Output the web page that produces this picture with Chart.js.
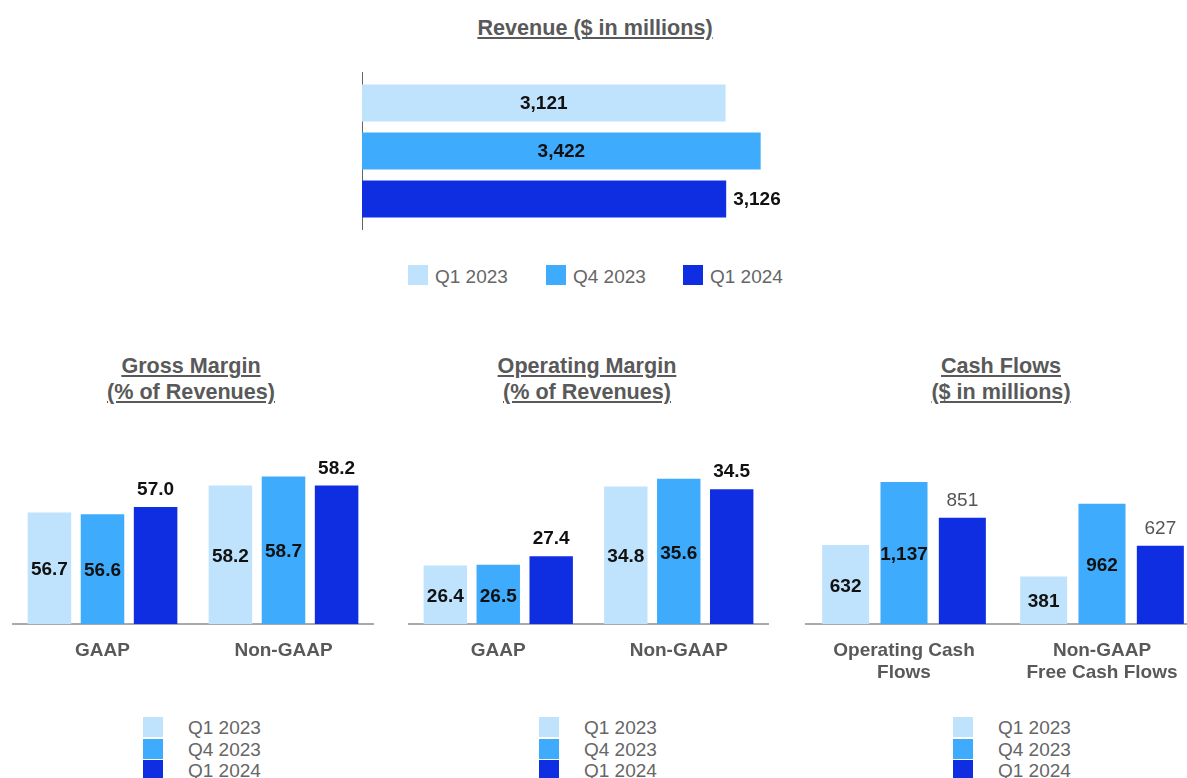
<!DOCTYPE html>
<html>
<head>
<meta charset="utf-8">
<script src="https://cdn.jsdelivr.net/npm/chart.js@4"></script>
<style>
  body { margin: 0; width: 1187px; height: 778px; overflow: hidden; background: #fff; font-family: "Liberation Sans", Arial, sans-serif; position: relative; }
  .box { position: absolute; }
  .title { position: absolute; text-align: center; color: #595959; font-weight: bold; font-size: 21.6px; line-height: 26px; }
  .title span { text-decoration: underline; text-underline-offset: 2px; }
  .legend { position: absolute; color: #666; font-size: 19px; }
  .legend .item { position: absolute; white-space: nowrap; }
  .legend .sw { position: absolute; width: 20px; height: 20px; }
</style>
</head>
<body>
<div class="title" style="left:395px; top:15px; width:400px;"><span>Revenue ($ in millions)</span></div>
<div class="box" style="left:362px; top:72px; width:466px; height:158px;"><canvas id="revenue"></canvas></div>
<div class="legend" id="revLegend"></div>

<div class="title" style="left:41px; top:353px; width:300px;"><span>Gross Margin</span><br><span>(% of Revenues)</span></div>
<div class="title" style="left:437px; top:353px; width:300px;"><span>Operating Margin</span><br><span>(% of Revenues)</span></div>
<div class="title" style="left:851px; top:353px; width:300px;"><span>Cash Flows</span><br><span>($ in millions)</span></div>

<div class="box" style="left:12px; top:444px; width:362px; height:240px;"><canvas id="gross"></canvas></div>
<div class="box" style="left:408px; top:444px; width:361px; height:240px;"><canvas id="operating"></canvas></div>
<div class="box" style="left:805px; top:444px; width:396px; height:240px;"><canvas id="cash"></canvas></div>

<div class="legend" id="grossLegend" style="left:143px; top:717px;"></div>
<div class="legend" id="opLegend" style="left:539px; top:717px;"></div>
<div class="legend" id="cashLegend" style="left:953px; top:717px;"></div>

<script>
  // Periods shown in every chart
  const periods = ['Q1 2023', 'Q4 2023', 'Q1 2024'];
  const periodColors = ['#c0e3fd', '#3fabfc', '#102ee1'];

  // Revenue ($ in millions), one bar per period
  const revenue = [3121, 3422, 3126];

  // Gross and operating margin (% of revenues)
  const marginGroups = ['GAAP', 'Non-GAAP'];
  const grossQ1_2023 = [56.7, 58.2];
  const grossQ4_2023 = [56.6, 58.7];
  const grossQ1_2024 = [57.0, 58.2];
  const opQ1_2023 = [26.4, 34.8];
  const opQ4_2023 = [26.5, 35.6];
  const opQ1_2024 = [27.4, 34.5];

  // Cash flows ($ in millions)
  const cashGroups = [['Operating Cash', 'Flows'], ['Non-GAAP', 'Free Cash Flows']];
  const cashQ1_2023 = [632, 381];
  const cashQ4_2023 = [1137, 962];
  const cashQ1_2024 = [851, 627];

  const FONT = '"Liberation Sans", Arial, sans-serif';

  // draws the value of each bar, inside (center) or past the end of it
  const valueLabels = {
    id: 'valueLabels',
    afterDatasetsDraw(chart, args, opts) {
      const ctx = chart.ctx;
      const area = chart.chartArea;
      ctx.save();
      chart.data.datasets.forEach((ds, i) => {
        const meta = chart.getDatasetMeta(i);
        const outside = opts.outside[i];
        meta.data.forEach((bar, j) => {
          const v = ds.data[j];
          const txt = opts.decimals ? v.toFixed(opts.decimals) : v.toLocaleString('en-US');
          const style = outside ? opts.outsideStyle : opts.insideStyle;
          ctx.font = style.font;
          ctx.fillStyle = style.color;
          ctx.textBaseline = 'middle';
          if (chart.options.indexAxis === 'y') {
            const base = Math.max(bar.base, area.left);
            if (outside) {
              ctx.textAlign = 'left';
              ctx.fillText(txt, bar.x + 7, bar.y + 1);
            } else {
              ctx.textAlign = 'center';
              ctx.fillText(txt, (bar.x + base) / 2, bar.y + 1);
            }
          } else {
            // bars of non-zero axes start below the chart area, so clamp the base
            const base = Math.min(bar.base, area.bottom);
            ctx.textAlign = 'center';
            if (outside) {
              ctx.fillText(txt, bar.x, bar.y - 17);
            } else {
              ctx.fillText(txt, bar.x, (bar.y + base) / 2 + 2);
            }
          }
        });
      });
      ctx.restore();
    }
  };

  function makeDatasets(seriesList, barPct, catPct) {
    return seriesList.map((data, i) => ({
      label: periods[i],
      data: data,
      backgroundColor: periodColors[i],
      borderWidth: 0,
      barPercentage: barPct,
      categoryPercentage: catPct
    }));
  }

  new Chart(document.getElementById('revenue'), {
    type: 'bar',
    data: {
      labels: ['Revenue'],
      datasets: makeDatasets([[revenue[0]], [revenue[1]], [revenue[2]]], 0.77, 0.91)
    },
    options: {
      indexAxis: 'y',
      responsive: true,
      maintainAspectRatio: false,
      animation: false,
      layout: { padding: 0 },
      plugins: {
        legend: { display: false },
        tooltip: { enabled: false },
        valueLabels: {
          outside: [false, false, true],
          insideStyle: { font: 'bold 19px ' + FONT, color: '#111' },
          outsideStyle: { font: 'bold 19px ' + FONT, color: '#111' }
        }
      },
      scales: {
        x: { display: false, min: 0, max: 4000 },
        y: {
          display: true,
          ticks: { display: false },
          grid: { display: false, drawTicks: false },
          border: { display: true, color: '#666', width: 2 }
        }
      }
    },
    plugins: [valueLabels]
  });

  function groupedChart(id, labels, series, min, max, decimals, aboveStyle, barPct, catPct) {
    return new Chart(document.getElementById(id), {
      type: 'bar',
      data: { labels: labels, datasets: makeDatasets(series, barPct, catPct) },
      options: {
        responsive: true,
        maintainAspectRatio: false,
        animation: false,
        layout: { padding: 0 },
        plugins: {
          legend: { display: false },
          tooltip: { enabled: false },
          valueLabels: {
            decimals: decimals,
            outside: [false, false, true],
            insideStyle: { font: 'bold 19px ' + FONT, color: '#111' },
            outsideStyle: aboveStyle
          }
        },
        scales: {
          x: {
            grid: { display: false, drawTicks: false },
            border: { display: true, color: '#aaa', width: 2 },
            ticks: { color: '#595959', font: { family: FONT, size: 19, weight: 'bold', lineHeight: 1.2 }, padding: 15, maxRotation: 0, autoSkip: false },
            afterFit(scale) { scale.height = 60; }
          },
          y: { display: false, min: min, max: max }
        }
      },
      plugins: [valueLabels]
    });
  }

  groupedChart('gross', marginGroups, [grossQ1_2023, grossQ4_2023, grossQ1_2024], 50.5, 60.5, 1,
    { font: 'bold 19px ' + FONT, color: '#111' }, 0.82, 0.88);
  groupedChart('operating', marginGroups, [opQ1_2023, opQ4_2023, opQ1_2024], 20.2, 39.3, 1,
    { font: 'bold 19px ' + FONT, color: '#111' }, 0.82, 0.88);
  groupedChart('cash', cashGroups, [cashQ1_2023, cashQ4_2023, cashQ1_2024], 0, 1440, 0,
    { font: '19px ' + FONT, color: '#555' }, 0.806, 0.884);

  // html legends
  function verticalLegend(elId) {
    const el = document.getElementById(elId);
    periods.forEach((p, i) => {
      const item = document.createElement('div');
      item.className = 'item';
      item.style.top = (i * 21.7) + 'px';
      item.innerHTML = '<div class="sw" style="left:0;top:0;background:' + periodColors[i] + '"></div>' +
        '<div style="position:absolute;left:45px;top:0px;line-height:22px;">' + p + '</div>';
      el.appendChild(item);
    });
  }
  verticalLegend('grossLegend');
  verticalLegend('opLegend');
  verticalLegend('cashLegend');

  const revLeg = document.getElementById('revLegend');
  const revLegX = [408, 546, 683];
  periods.forEach((p, i) => {
    const item = document.createElement('div');
    item.className = 'item';
    item.style.left = revLegX[i] + 'px';
    item.style.top = '265px';
    item.innerHTML = '<div class="sw" style="left:0;top:0;background:' + periodColors[i] + '"></div>' +
      '<div style="position:absolute;left:27px;top:1px;line-height:22px;">' + p + '</div>';
    revLeg.appendChild(item);
  });
</script>
</body>
</html>
